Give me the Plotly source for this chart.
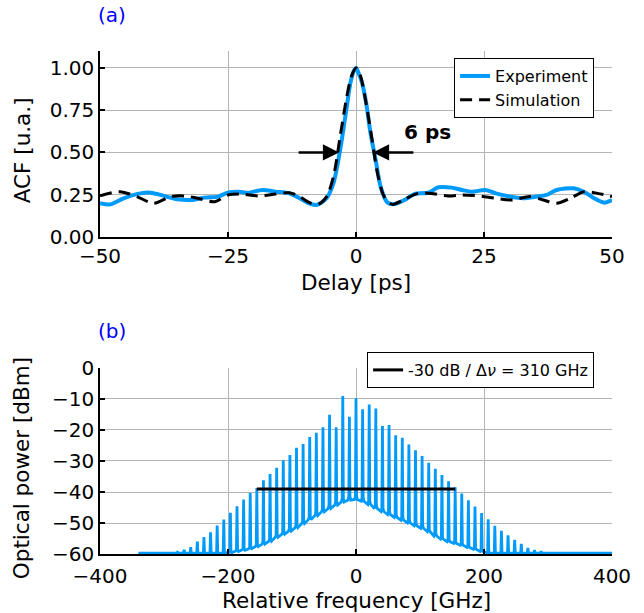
import plotly.graph_objects as go

# ---------------- (a) autocorrelation ----------------
delay_exp = [-50, -48, -45.4, -42.1, -40.1, -37.5, -34.9, -32.2, -29.6, -26.9,
             -24.9, -22.9, -21, -18.3, -15.7, -13, -11, -9.1, -7.7, -5.75,
             -4.4, -3.1, -1.8, -1.1, -0.46, 0, 0.5, 1.2, 2.0, 2.84,
             3.84, 4.8, 6.15, 7.5, 9.46, 11.4, 14.1, 16.1, 18.7, 20.7,
             22.7, 25.3, 27.3, 30, 32.6, 35.3, 37.2, 39.2, 42.5, 44.5,
             46.5, 48.5, 50]
acf_exp = [0.20, 0.193, 0.229, 0.258, 0.262, 0.243, 0.223, 0.219, 0.233, 0.239,
           0.264, 0.268, 0.262, 0.278, 0.268, 0.258, 0.229, 0.199, 0.189, 0.229,
           0.318, 0.515, 0.771, 0.91, 0.98, 1.0, 0.97, 0.91, 0.79, 0.613,
           0.456, 0.298, 0.203, 0.195, 0.219, 0.254, 0.262, 0.294, 0.292, 0.278,
           0.268, 0.278, 0.258, 0.239, 0.229, 0.239, 0.249, 0.278, 0.288, 0.268,
           0.229, 0.203, 0.219]

delay_sim = [-50, -46.1, -42.8, -39.5, -36.2, -33.5, -30.9, -27.6, -24.9, -22.3,
             -19, -15.7, -13, -11, -9.06, -7.4, -5.75, -4.4, -3.1, -1.8,
             -0.9, 0, 0.8, 1.5, 2.84, 4.2, 5.5, 7.1, 9.46, 12.1,
             14.7, 18, 20.7, 24, 27.3, 30.6, 33.9, 36.6, 39.2, 41.9,
             44.5, 47.2, 50]
acf_sim = [0.243, 0.268, 0.239, 0.199, 0.239, 0.243, 0.229, 0.209, 0.249, 0.254,
           0.243, 0.254, 0.262, 0.239, 0.203, 0.193, 0.239, 0.357, 0.594, 0.83,
           0.95, 1.0, 0.96, 0.87, 0.633, 0.377, 0.239, 0.193, 0.223, 0.258,
           0.258, 0.243, 0.249, 0.243, 0.229, 0.219, 0.239, 0.219, 0.199, 0.229,
           0.268, 0.258, 0.239]

fwhm_label = "6 ps"
fwhm_arrow_tip = 3.3      # ps
fwhm_arrow_tail = 11.5    # ps
fwhm_level = 0.5

# ---------------- (b) optical spectrum ----------------
comb_spacing_ghz = 10.33
comb_index = list(range(-30, 31))
peak_dbm = [-59.9, -59.8, -59.8, -59.4, -58.6, -57.8, -56.0, -54.5, -53.0, -50.8,
            -48.9, -46.7, -44.6, -42.4, -40.3, -38.7, -36.2, -34.2, -32.2, -29.8,
            -28.1, -25.7, -24.5, -22.3, -20.9, -19.1, -15.1, -19.1, -9.0, -15.7,
            -9.8,
            -13.3, -11.8, -13.1, -18.7, -18.4, -21.7, -22.5, -24.7, -26.5, -28.4,
            -30.6, -32.5, -34.5, -36.5, -38.5, -40.5, -42.7, -44.7, -46.8, -48.8,
            -50.9, -52.5, -54.0, -55.4, -56.7, -58.0, -58.7, -59.1, -59.5, -59.8]
# valley level beside each comb line
floor_dbm = [-59.7] * 11 + [
    -59.6, -59.2, -58.8, -58.3, -57.6, -56.8, -55.9, -54.6, -53.6, -52.6,
    -51.5, -50.2, -48.9, -47.6, -46.4, -45.3, -44.2, -43.2, -42.6,
    -42.4,
    -43.0, -44.0, -45.3, -46.3, -47.3, -48.2, -49.1, -50.0, -50.9, -51.7,
    -52.8, -54.2, -55.2, -56.0, -56.6, -57.2, -57.9, -58.5, -59.2] + [-59.7] * 11
# small shoulder at the base of each line
shoulder_db = [0.0] * 11 + [
    0.2, 0.3, 0.3, 0.4, 0.5, 0.6, 0.6, 0.7, 0.7, 0.8,
    0.8, 0.8, 0.9, 0.9, 0.9, 1.0, 1.0, 1.1, 1.2,
    1.2,
    1.2, 1.1, 1.0, 1.0, 0.9, 0.9, 0.9, 0.8, 0.8, 0.8,
    0.7, 0.7, 0.6, 0.6, 0.5, 0.4, 0.3, 0.3, 0.2] + [0.0] * 11
spectrum_start = (-340, -59.7)
spectrum_end = (400, -59.7)

span_level_dbm = -39.0
span_edges_ghz = [-155, 155]
span_label = "-30 dB / Δ<i>ν</i> = 310 GHz"

BLUE = "#009AFA"
FONT = "DejaVu Sans"

# spectrum trace built from the comb lines
spec_x = [spectrum_start[0]]
spec_y = [spectrum_start[1]]
for n, pk, fl, sh in zip(comb_index, peak_dbm, floor_dbm, shoulder_db):
    f = n * comb_spacing_ghz
    spec_x += [f - 2.2, f - 0.9, f, f + 0.9, f + 2.2]
    spec_y += [fl, fl + sh, pk, fl + sh, fl]
spec_x.append(spectrum_end[0])
spec_y.append(spectrum_end[1])

fig = go.Figure()
fig.add_trace(go.Scatter(x=delay_exp, y=acf_exp, mode="lines", name="Experiment",
                         line=dict(color=BLUE, width=4, shape="spline", smoothing=0.8),
                         xaxis="x", yaxis="y", legend="legend"))
fig.add_trace(go.Scatter(x=delay_sim, y=acf_sim, mode="lines", name="Simulation",
                         line=dict(color="black", width=3, dash="12px,7px", shape="spline", smoothing=0.8),
                         xaxis="x", yaxis="y", legend="legend"))
fig.add_trace(go.Scatter(x=spec_x, y=spec_y, mode="lines", showlegend=False,
                         line=dict(color=BLUE, width=2.8),
                         xaxis="x2", yaxis="y2"))
fig.add_trace(go.Scatter(x=span_edges_ghz, y=[span_level_dbm, span_level_dbm], mode="lines",
                         name=span_label, line=dict(color="black", width=3),
                         xaxis="x2", yaxis="y2", legend="legend2"))

axis_common = dict(showline=True, linecolor="black", linewidth=1.5,
                   ticks="inside", ticklen=5, tickwidth=1.5, tickcolor="black",
                   showgrid=True, gridcolor="#b4b4b4", gridwidth=1, zeroline=False,
                   tickfont=dict(family=FONT, size=20, color="black"))

fig.update_layout(
    width=644, height=613,
    margin=dict(l=100, r=32, t=51, b=59),
    paper_bgcolor="white", plot_bgcolor="white",
    font=dict(family=FONT, size=20, color="black"),
    xaxis=dict(domain=[0, 1], anchor="y", range=[-50, 50],
               tickvals=[-50, -25, 0, 25, 50], **axis_common),
    yaxis=dict(domain=[0.6302, 1.0], anchor="x", range=[0, 1.1],
               tickvals=[0, 0.25, 0.5, 0.75, 1.0], tickformat=".2f", **axis_common),
    xaxis2=dict(domain=[0, 1], anchor="y2", range=[-400, 400],
                tickvals=[-400, -200, 0, 200, 400], ticklabelstandoff=3, **axis_common),
    yaxis2=dict(domain=[0, 0.3698], anchor="x2", range=[-60, 0],
                tickvals=[0, -10, -20, -30, -40, -50, -60], **axis_common),
    legend=dict(x=0.965, xanchor="right", y=0.986, yanchor="top",
                bordercolor="black", borderwidth=1, bgcolor="white",
                font=dict(family=FONT, size=16, color="black"), tracegroupgap=0,
                itemwidth=30),
    legend2=dict(x=0.965, xanchor="right", y=0.4016, yanchor="top",
                 bordercolor="black", borderwidth=1, bgcolor="white",
                 font=dict(family=FONT, size=16, color="black")),
    showlegend=True,
)

annotations = [
    dict(text="(a)", x=0.0234, y=1.0716, xref="paper", yref="paper", showarrow=False,
         font=dict(family=FONT, size=20, color="blue"), xanchor="center", yanchor="middle"),
    dict(text="(b)", x=0.0234, y=0.4433, xref="paper", yref="paper", showarrow=False,
         font=dict(family=FONT, size=20, color="blue"), xanchor="center", yanchor="middle"),
    dict(text="ACF [u.a.]", x=-0.152, y=0.803, xref="paper", yref="paper", showarrow=False,
         textangle=-90, font=dict(family=FONT, size=21.5), xanchor="center", yanchor="middle"),
    dict(text="Delay [ps]", x=0.5, y=0.5388, xref="paper", yref="paper", showarrow=False,
         font=dict(family=FONT, size=21.5), xanchor="center", yanchor="middle"),
    dict(text="Optical power [dBm]", x=-0.152, y=0.171, xref="paper", yref="paper", showarrow=False,
         textangle=-90, font=dict(family=FONT, size=21.5), xanchor="center", yanchor="middle"),
    dict(text="Relative frequency [GHz]", x=0.5, y=-0.0915, xref="paper", yref="paper", showarrow=False,
         font=dict(family=FONT, size=21.5), xanchor="center", yanchor="middle"),
    dict(text="<b>%s</b>" % fwhm_label, x=14, y=0.62, xref="x", yref="y", showarrow=False,
         font=dict(family=FONT, size=20, color="black"), xanchor="center", yanchor="middle"),
    dict(text="", x=-fwhm_arrow_tip, y=fwhm_level, ax=-fwhm_arrow_tail, ay=fwhm_level,
         xref="x", yref="y", axref="x", ayref="y", showarrow=True, arrowhead=2,
         arrowsize=1.3, arrowwidth=2.5, arrowcolor="black"),
    dict(text="", x=fwhm_arrow_tip, y=fwhm_level, ax=fwhm_arrow_tail, ay=fwhm_level,
         xref="x", yref="y", axref="x", ayref="y", showarrow=True, arrowhead=2,
         arrowsize=1.3, arrowwidth=2.5, arrowcolor="black"),
]
fig.update_layout(annotations=annotations)

fig.write_html("out.html")
